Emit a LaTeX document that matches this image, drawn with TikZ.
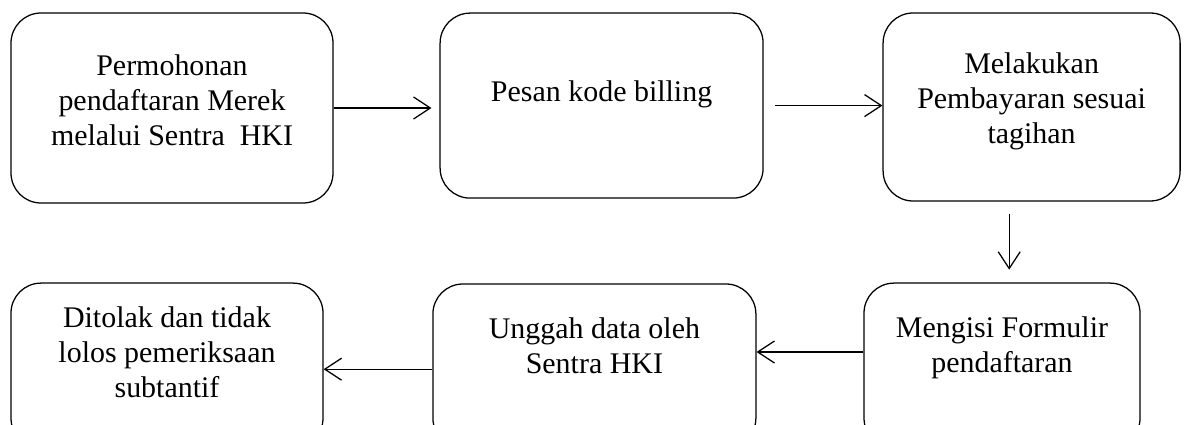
\documentclass[tikz,border=0pt]{standalone}
\usepackage{fontspec}
\setmainfont{Liberation Serif}
\usetikzlibrary{arrows.meta,positioning}

\begin{document}
\begin{tikzpicture}[
    box/.style={draw, line width=0.9pt, rounded corners=0.75cm, inner sep=0pt},
    txt/.style={align=center, inner sep=0pt, anchor=north,
      font=\fontsize{21.3}{24.9}\selectfont},
    arr/.style={-{Straight Barb[length=0.42cm,width=0.55cm]}, line width=0.9pt}
  ]
    \clip (0,0) rectangle (29.65,-10.625);

    \node (b1) at (4.3,-2.7) [box, minimum width=8.05cm, minimum height=4.75cm] {};
    \node (b2) at (15.04,-2.64) [box, minimum width=8.075cm, minimum height=4.625cm] {};
    \node (b3) at (25.79,-2.675) [box, minimum width=7.425cm, minimum height=4.7cm] {};
    \node (b4) at (25.05,-9.14) [box, minimum width=6.9cm, minimum height=4.125cm] {};
    \node (b5) at (14.86,-9.15) [box, minimum width=8.075cm, minimum height=4.1cm] {};
    \node (b6) at (4.175,-9.14) [box, minimum width=7.8cm, minimum height=4.125cm] {};

    \node (t1) [txt, below=1.04cm of b1.north] {Permohonan\\pendaftaran Merek\\melalui Sentra\ \ HKI};
    \node (t2) [txt, below=1.69cm of b2.north] {Pesan kode billing};
    \node (t3) [txt, below=0.99cm of b3.north] {Melakukan\\Pembayaran sesuai\\tagihan};
    \node (t4) [txt, below=0.84cm of b4.north] {Mengisi Formulir\\pendaftaran};
    \node (t5) [txt, below=0.86cm of b5.north] {Unggah data oleh\\Sentra HKI};
    \node (t6) [txt, below=0.59cm of b6.north] {Ditolak dan tidak\\lolos pemeriksaan\\subtantif};

    \draw [arr, shorten >=0.2cm] (b1.east) -- (b1.east -| b2.west);
    \draw [arr, shorten <=0.28cm] (b2.east) -- (b2.east -| b3.west);
    \draw [arr, shorten <=0.3cm, shorten >=0.32cm] ([xshift=0.18cm]b4.north |- b3.south) -- ([xshift=0.18cm]b4.north);
    \draw [arr] ([yshift=0.34cm]b4.west) -- ([yshift=0.34cm]b4.west -| b5.east);
    \draw [arr] ([yshift=-0.08cm]b5.west) -- ([yshift=-0.08cm]b5.west -| b6.east);
\end{tikzpicture}
\end{document}
